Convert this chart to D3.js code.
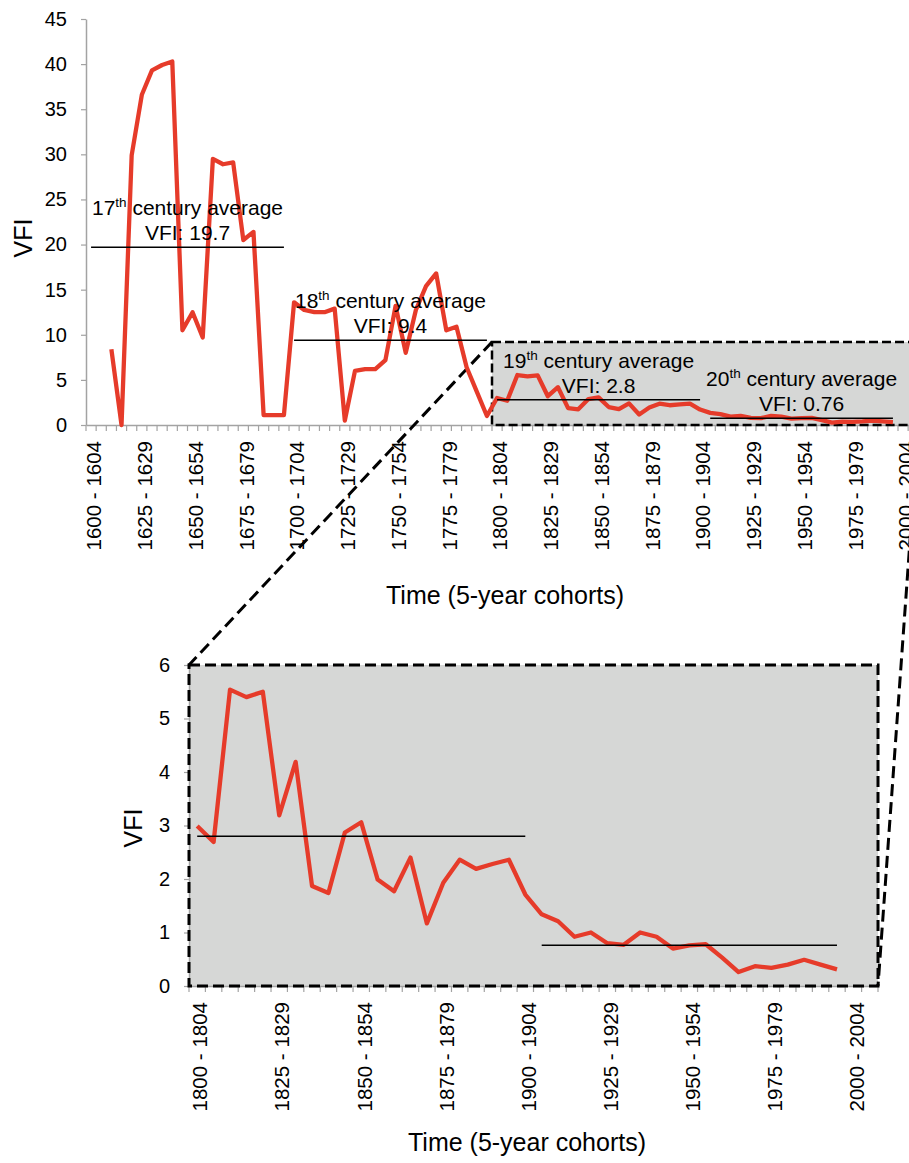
<!DOCTYPE html>
<html>
<head>
<meta charset="utf-8">
<script src="https://cdn.jsdelivr.net/npm/d3@7"></script>
<style>
  body { margin: 0; background: #fff; }
  svg { display: block; font-family: "Liberation Sans", Arial, Helvetica, sans-serif; }
</style>
</head>
<body>
<div id="chart"></div>
<script>
// ================================================
// VFI by 5-year cohort, with a zoom on 1800-2004

// categories: 5-year cohorts
var cohortStart = d3.range(1600, 2010, 5);
var cohorts = cohortStart.map(function (s) { return s + " - " + (s + 4); });

// VFI value of each cohort (null = no value)
var vfi = [
  null, null, 8.4, 0, 29.9, 36.6, 39.3, 39.9, 40.3, 10.5,
  12.5, 9.7, 29.5, 28.9, 29.1, 20.5, 21.4, 1.1, 1.1, 1.1,
  13.6, 12.75, 12.5, 12.5, 12.9, 0.5, 6.0, 6.2, 6.2, 7.2,
  13.2, 8.0, 12.75, 15.4, 16.8, 10.5, 10.9, 6.4, 3.7, 1.0,
  2.99, 2.69, 5.54, 5.40, 5.50, 3.19, 4.19, 1.87, 1.74, 2.87,
  3.06, 1.99, 1.77, 2.40, 1.17, 1.93, 2.36, 2.19, 2.28, 2.36,
  1.71, 1.34, 1.21, 0.92, 1.00, 0.80, 0.77, 1.00, 0.92, 0.70,
  0.76, 0.78, 0.53, 0.26, 0.37, 0.34, 0.40, 0.49, 0.40, 0.31,
  null, null
];

// century averages
var centuries = ["17", "18", "19", "20"];
var centuryAvg = [19.7, 9.4, 2.8, 0.76];
var centuryFrom = ["1600 - 1604", "1700 - 1704", "1800 - 1804", "1905 - 1909"];
var centuryTo = ["1695 - 1699", "1795 - 1799", "1900 - 1904", "1995 - 1999"];

// axis ticks
var yTicksTop = [0, 5, 10, 15, 20, 25, 30, 35, 40, 45];
var yTicksBottom = [0, 1, 2, 3, 4, 5, 6];
var xTitle = "Time (5-year cohorts)";
var yTitle = "VFI";

// zoomed window
var zoomFrom = "1800 - 1804";
var zoomTop = 9.2;

var width = 909, height = 1163;
var red = "#e63b2a", axisGrey = "#a3a3a3", boxGrey = "#d6d7d6";

var svg = d3.select("#chart").append("svg")
  .attr("width", width)
  .attr("height", height);

// scales
var xT = d3.scaleBand().domain(cohorts).range([86, 86 + cohorts.length * 10.15]);
var yT = d3.scaleLinear().domain([0, 45]).range([425, 19]);

var cohortsB = cohorts.slice(cohorts.indexOf(zoomFrom));
var vfiB = vfi.slice(cohorts.indexOf(zoomFrom));
var xB = d3.scaleBand().domain(cohortsB).range([189, 878]);
var yB = d3.scaleLinear().domain([0, 6]).range([986, 665]);

// grey boxes (behind everything)
var boxT = {
  x0: xT(zoomFrom), x1: xT.range()[1], y0: yT(zoomTop), y1: yT(0)
};
var boxB = {
  x0: xB.range()[0], x1: xB.range()[1], y0: yB(6), y1: yB(0)
};
[boxT, boxB].forEach(function (b) {
  svg.append("rect")
    .attr("x", b.x0).attr("y", b.y0)
    .attr("width", b.x1 - b.x0).attr("height", b.y1 - b.y0)
    .attr("fill", boxGrey);
});

function drawAxes(x, y, cats, yTicks) {
  var bottom = y.range()[0];

  // y axis
  var gy = svg.append("g")
    .attr("transform", "translate(" + x.range()[0] + ",0)")
    .call(d3.axisLeft(y).tickValues(yTicks).tickFormat(d3.format("d"))
      .tickSize(5).tickPadding(14).tickSizeOuter(0));
  gy.select(".domain").attr("stroke", axisGrey).attr("stroke-width", 1.5);
  gy.selectAll(".tick line").attr("stroke", axisGrey).attr("stroke-width", 1.2);
  gy.selectAll("text").style("font-size", "20px").attr("fill", "#000");

  // x axis: labels every 5th cohort, tick marks between categories
  var labelled = cats.filter(function (d) { return cohorts.indexOf(d) % 5 === 0; });
  var gx = svg.append("g")
    .attr("transform", "translate(0," + bottom + ")")
    .call(d3.axisBottom(x).tickValues(labelled).tickSize(0).tickSizeOuter(0));
  gx.select(".domain").attr("stroke", axisGrey).attr("stroke-width", 1.5);
  gx.selectAll("text")
    .attr("x", -16).attr("y", 0).attr("dy", "0.5em")
    .attr("transform", "rotate(-90)")
    .style("text-anchor", "end")
    .style("font-size", "20.5px")
    .attr("fill", "#000");

  var edges = cats.map(function (c) { return x(c); }).concat([x.range()[1]]);
  svg.append("g").selectAll("line")
    .data(edges).enter().append("line")
    .attr("x1", function (d) { return d; }).attr("x2", function (d) { return d; })
    .attr("y1", bottom).attr("y2", bottom + 6)
    .attr("stroke", axisGrey).attr("stroke-width", 1.2);
}

drawAxes(xT, yT, cohorts, yTicksTop);
drawAxes(xB, yB, cohortsB, yTicksBottom);

// dashed box outlines + connectors
svg.append("rect")
  .attr("x", boxT.x0).attr("y", boxT.y0)
  .attr("width", boxT.x1 - boxT.x0).attr("height", boxT.y1 - boxT.y0)
  .attr("fill", "none").attr("stroke", "#000")
  .attr("stroke-width", 2.5).attr("stroke-dasharray", "9,4");
svg.append("rect")
  .attr("x", boxB.x0).attr("y", boxB.y0)
  .attr("width", boxB.x1 - boxB.x0).attr("height", boxB.y1 - boxB.y0)
  .attr("fill", "none").attr("stroke", "#000")
  .attr("stroke-width", 3).attr("stroke-dasharray", "11,5");

var connectors = [
  [boxT.x0, boxT.y0, boxB.x0, boxB.y0],
  [boxT.x1, boxT.y1, boxB.x1, boxB.y1]
];
svg.append("g").selectAll("line")
  .data(connectors).enter().append("line")
  .attr("x1", function (d) { return d[0]; }).attr("y1", function (d) { return d[1]; })
  .attr("x2", function (d) { return d[2]; }).attr("y2", function (d) { return d[3]; })
  .attr("stroke", "#000").attr("stroke-width", 3).attr("stroke-dasharray", "12,6");

// red VFI lines
function drawLine(x, y, cats, vals) {
  var bw = x.bandwidth();
  var line = d3.line()
    .defined(function (d) { return d != null; })
    .x(function (d, i) { return x(cats[i]) + bw / 2; })
    .y(function (d) { return y(d); });
  svg.append("path")
    .datum(vals)
    .attr("fill", "none")
    .attr("stroke", red)
    .attr("stroke-width", 4.3)
    .attr("stroke-linejoin", "round")
    .attr("d", line);
}
drawLine(xT, yT, cohorts, vfi);
drawLine(xB, yB, cohortsB, vfiB);

// century averages, top chart (with labels)
centuries.forEach(function (c, i) {
  var bw = xT.bandwidth();
  var x0 = xT(centuryFrom[i]) + bw / 2, x1 = xT(centuryTo[i]) + bw / 2;
  var yy = yT(centuryAvg[i]);
  svg.append("line")
    .attr("x1", x0).attr("x2", x1).attr("y1", yy).attr("y2", yy)
    .attr("stroke", "#000").attr("stroke-width", 1.5);
  var cx = (x0 + x1) / 2;
  var t = svg.append("text")
    .attr("x", cx).attr("y", yy - 32)
    .attr("text-anchor", "middle")
    .style("font-size", "21px");
  t.append("tspan").text(c);
  t.append("tspan").attr("dy", -8).style("font-size", "13.5px").text("th");
  t.append("tspan").attr("dy", 8).text(" century average");
  svg.append("text")
    .attr("x", cx).attr("y", yy - 7)
    .attr("text-anchor", "middle")
    .style("font-size", "21px")
    .text("VFI: " + centuryAvg[i]);
});

// century averages, bottom chart (lines only)
centuries.forEach(function (c, i) {
  if (cohortsB.indexOf(centuryFrom[i]) < 0) return;
  var bw = xB.bandwidth();
  var yy = yB(centuryAvg[i]);
  svg.append("line")
    .attr("x1", xB(centuryFrom[i]) + bw / 2).attr("x2", xB(centuryTo[i]) + bw / 2)
    .attr("y1", yy).attr("y2", yy)
    .attr("stroke", "#000").attr("stroke-width", 1.5);
});

// axis titles
svg.append("text")
  .attr("x", 505).attr("y", 604)
  .attr("text-anchor", "middle")
  .style("font-size", "25px")
  .text(xTitle);
svg.append("text")
  .attr("x", 527).attr("y", 1151)
  .attr("text-anchor", "middle")
  .style("font-size", "25px")
  .text(xTitle);
svg.append("text")
  .attr("transform", "translate(32,238) rotate(-90)")
  .attr("text-anchor", "middle")
  .style("font-size", "25px")
  .text(yTitle);
svg.append("text")
  .attr("transform", "translate(142,828) rotate(-90)")
  .attr("text-anchor", "middle")
  .style("font-size", "25px")
  .text(yTitle);
</script>
</body>
</html>
